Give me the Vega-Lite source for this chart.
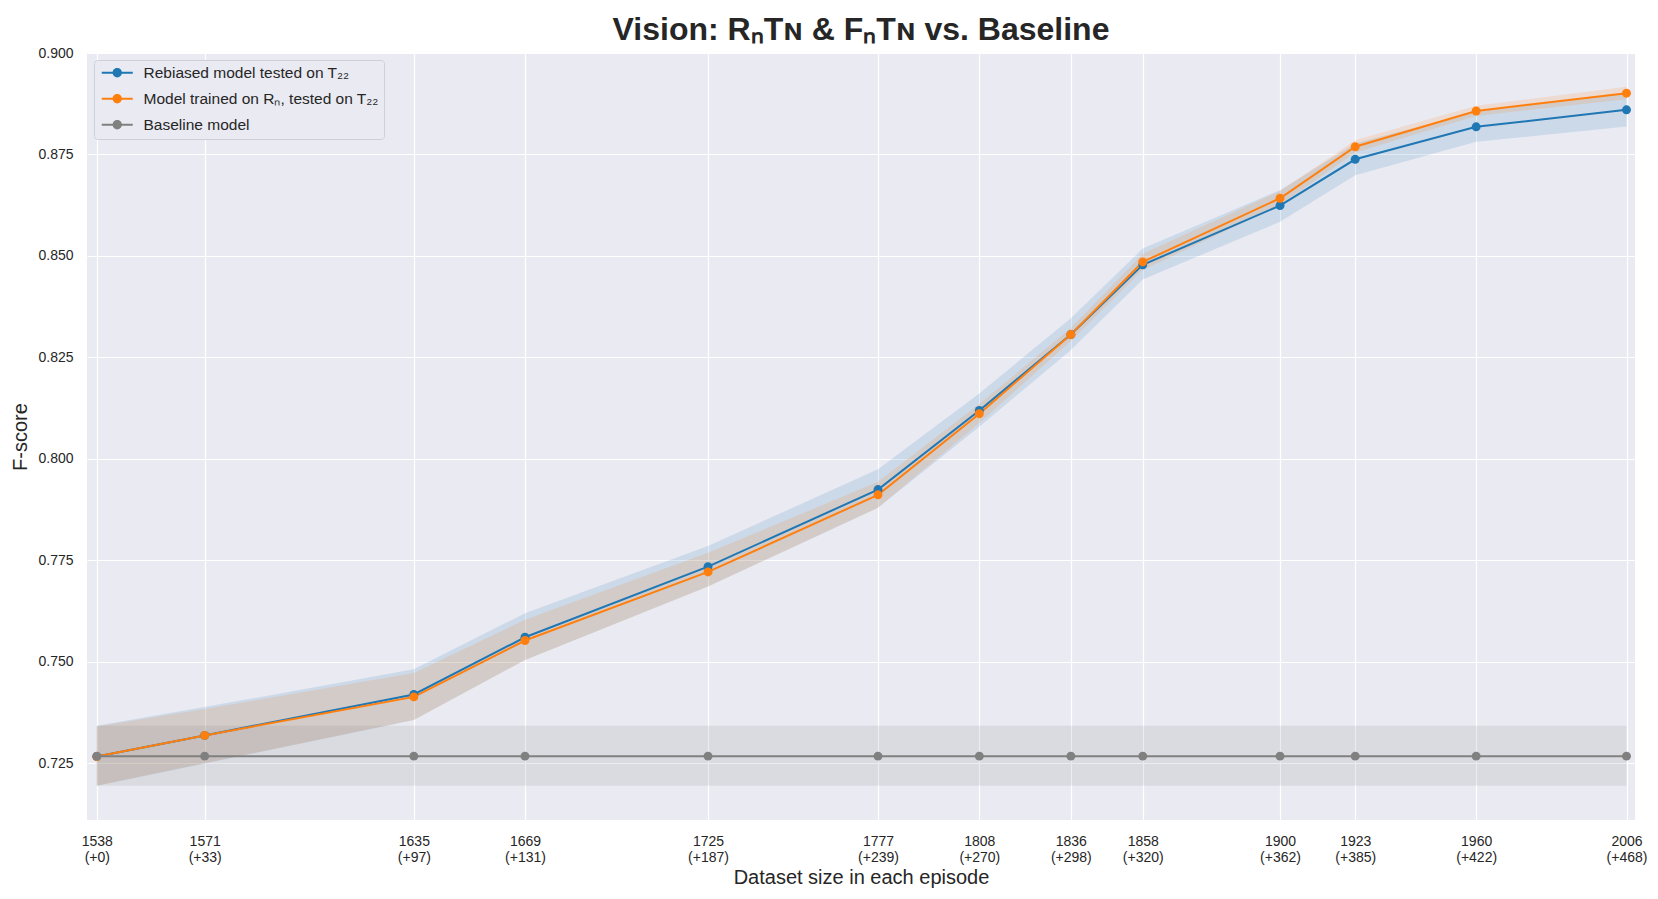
{
  "$schema": "https://vega.github.io/schema/vega-lite/v6.json",
  "autosize": {"type": "none"},
  "padding": {"left": 87, "top": 53, "right": 23, "bottom": 79},
  "width": 1548,
  "height": 767,
  "background": "white",
  "title": {
    "text": "Vision: RₙTɴ & FₙTɴ vs. Baseline",
    "font": "Liberation Sans",
    "fontSize": 32,
    "fontWeight": "bold",
    "color": "#262626",
    "anchor": "middle",
    "offset": -1
  },
  "config": {
    "view": {"fill": "#EAEAF2", "stroke": null},
    "axis": {
      "labelFont": "Liberation Sans",
      "labelFontSize": 14,
      "labelColor": "#262626",
      "titleFont": "Liberation Sans",
      "titleFontSize": 20,
      "titleFontWeight": "normal",
      "titleColor": "#262626",
      "domain": false,
      "ticks": false,
      "grid": true,
      "gridColor": "#FFFFFF",
      "gridWidth": 1.2,
      "gridOpacity": 1
    },
    "legend": {
      "labelFont": "Liberation Sans",
      "labelFontSize": 15.5,
      "labelColor": "#262626",
      "labelLimit": 0
    }
  },
  "data": {
    "values": [
      {"size": 1538, "series": "Rebiased model tested on T₂₂", "f": 0.7266, "lo": 0.7194, "hi": 0.7342},
      {"size": 1571, "series": "Rebiased model tested on T₂₂", "f": 0.7318, "lo": 0.7249, "hi": 0.7388},
      {"size": 1635, "series": "Rebiased model tested on T₂₂", "f": 0.7419, "lo": 0.7356, "hi": 0.7481},
      {"size": 1669, "series": "Rebiased model tested on T₂₂", "f": 0.7560, "lo": 0.7504, "hi": 0.7619},
      {"size": 1725, "series": "Rebiased model tested on T₂₂", "f": 0.7734, "lo": 0.7685, "hi": 0.7785},
      {"size": 1777, "series": "Rebiased model tested on T₂₂", "f": 0.7924, "lo": 0.7879, "hi": 0.7974},
      {"size": 1808, "series": "Rebiased model tested on T₂₂", "f": 0.8119, "lo": 0.8079, "hi": 0.8161},
      {"size": 1836, "series": "Rebiased model tested on T₂₂", "f": 0.8306, "lo": 0.8268, "hi": 0.8346},
      {"size": 1858, "series": "Rebiased model tested on T₂₂", "f": 0.8478, "lo": 0.8442, "hi": 0.8518},
      {"size": 1900, "series": "Rebiased model tested on T₂₂", "f": 0.8624, "lo": 0.8584, "hi": 0.8662},
      {"size": 1923, "series": "Rebiased model tested on T₂₂", "f": 0.8738, "lo": 0.8699, "hi": 0.8777},
      {"size": 1960, "series": "Rebiased model tested on T₂₂", "f": 0.8818, "lo": 0.8781, "hi": 0.8856},
      {"size": 2006, "series": "Rebiased model tested on T₂₂", "f": 0.8860, "lo": 0.8819, "hi": 0.8901},
      {"size": 1538, "series": "Model trained on Rₙ, tested on T₂₂", "f": 0.7266, "lo": 0.7194, "hi": 0.7340},
      {"size": 1571, "series": "Model trained on Rₙ, tested on T₂₂", "f": 0.7318, "lo": 0.7250, "hi": 0.7383},
      {"size": 1635, "series": "Model trained on Rₙ, tested on T₂₂", "f": 0.7413, "lo": 0.7356, "hi": 0.7472},
      {"size": 1669, "series": "Model trained on Rₙ, tested on T₂₂", "f": 0.7552, "lo": 0.7504, "hi": 0.7603},
      {"size": 1725, "series": "Model trained on Rₙ, tested on T₂₂", "f": 0.7721, "lo": 0.7685, "hi": 0.7768},
      {"size": 1777, "series": "Model trained on Rₙ, tested on T₂₂", "f": 0.7911, "lo": 0.7879, "hi": 0.7943},
      {"size": 1808, "series": "Model trained on Rₙ, tested on T₂₂", "f": 0.8111, "lo": 0.8088, "hi": 0.8135},
      {"size": 1836, "series": "Model trained on Rₙ, tested on T₂₂", "f": 0.8306, "lo": 0.8290, "hi": 0.8322},
      {"size": 1858, "series": "Model trained on Rₙ, tested on T₂₂", "f": 0.8485, "lo": 0.8465, "hi": 0.8505},
      {"size": 1900, "series": "Model trained on Rₙ, tested on T₂₂", "f": 0.8642, "lo": 0.8625, "hi": 0.8660},
      {"size": 1923, "series": "Model trained on Rₙ, tested on T₂₂", "f": 0.8769, "lo": 0.8755, "hi": 0.8785},
      {"size": 1960, "series": "Model trained on Rₙ, tested on T₂₂", "f": 0.8857, "lo": 0.8845, "hi": 0.8870},
      {"size": 2006, "series": "Model trained on Rₙ, tested on T₂₂", "f": 0.8901, "lo": 0.8886, "hi": 0.8917},
      {"size": 1538, "series": "Baseline model", "f": 0.7267, "lo": 0.7194, "hi": 0.7342},
      {"size": 1571, "series": "Baseline model", "f": 0.7267, "lo": 0.7194, "hi": 0.7342},
      {"size": 1635, "series": "Baseline model", "f": 0.7267, "lo": 0.7194, "hi": 0.7342},
      {"size": 1669, "series": "Baseline model", "f": 0.7267, "lo": 0.7194, "hi": 0.7342},
      {"size": 1725, "series": "Baseline model", "f": 0.7267, "lo": 0.7194, "hi": 0.7342},
      {"size": 1777, "series": "Baseline model", "f": 0.7267, "lo": 0.7194, "hi": 0.7342},
      {"size": 1808, "series": "Baseline model", "f": 0.7267, "lo": 0.7194, "hi": 0.7342},
      {"size": 1836, "series": "Baseline model", "f": 0.7267, "lo": 0.7194, "hi": 0.7342},
      {"size": 1858, "series": "Baseline model", "f": 0.7267, "lo": 0.7194, "hi": 0.7342},
      {"size": 1900, "series": "Baseline model", "f": 0.7267, "lo": 0.7194, "hi": 0.7342},
      {"size": 1923, "series": "Baseline model", "f": 0.7267, "lo": 0.7194, "hi": 0.7342},
      {"size": 1960, "series": "Baseline model", "f": 0.7267, "lo": 0.7194, "hi": 0.7342},
      {"size": 2006, "series": "Baseline model", "f": 0.7267, "lo": 0.7194, "hi": 0.7342}
    ]
  },
  "encoding": {
    "x": {
      "field": "size",
      "type": "quantitative",
      "scale": {"domain": [1535, 2008.6], "zero": false, "nice": false},
      "axis": {
        "title": "Dataset size in each episode",
        "values": [1538, 1571, 1635, 1669, 1725, 1777, 1808, 1836, 1858, 1900, 1923, 1960, 2006],
        "labelExpr": "[format(datum.value, 'd'), '(+' + format(datum.value - 1538, 'd') + ')']",
        "labelPadding": 14,
        "labelLineHeight": 16,
        "labelFlush": false,
        "labelOverlap": false,
        "titlePadding": 3
      }
    },
    "color": {
      "field": "series",
      "type": "nominal",
      "scale": {
        "domain": ["Rebiased model tested on T₂₂", "Model trained on Rₙ, tested on T₂₂", "Baseline model"],
        "range": ["#1f77b4", "#ff7f0e", "#808080"]
      },
      "legend": {
        "title": null,
        "orient": "top-left",
        "offset": 7,
        "padding": 5,
        "rowPadding": 9,
        "fillColor": "#EAEAF2",
        "strokeColor": "#CFCFD6",
        "cornerRadius": 3,
        "symbolType": "M-1,-0.2H5.2V0.2H-1ZM1.17,0A0.93,0.93 0 1,1 3.03,0A0.93,0.93 0 1,1 1.17,0Z",
        "symbolSize": 100,
        "symbolOpacity": 1,
        "symbolStrokeWidth": 0,
        "labelOffset": 29
      }
    }
  },
  "layer": [
    {
      "mark": {"type": "area", "fillOpacity": 0.15},
      "encoding": {
        "y": {
          "field": "lo",
          "type": "quantitative",
          "scale": {"domain": [0.71096, 0.9], "zero": false, "nice": false},
          "axis": {
            "title": "F-score",
            "values": [0.725, 0.75, 0.775, 0.8, 0.825, 0.85, 0.875, 0.9],
            "format": ".3f",
            "labelPadding": 14,
            "titlePadding": 7
          }
        },
        "y2": {"field": "hi"}
      }
    },
    {
      "mark": {"type": "line", "strokeWidth": 2},
      "encoding": {
        "y": {"field": "f", "type": "quantitative"}
      }
    },
    {
      "mark": {"type": "point", "filled": true, "size": 80, "opacity": 1},
      "encoding": {
        "y": {"field": "f", "type": "quantitative"}
      }
    }
  ]
}
